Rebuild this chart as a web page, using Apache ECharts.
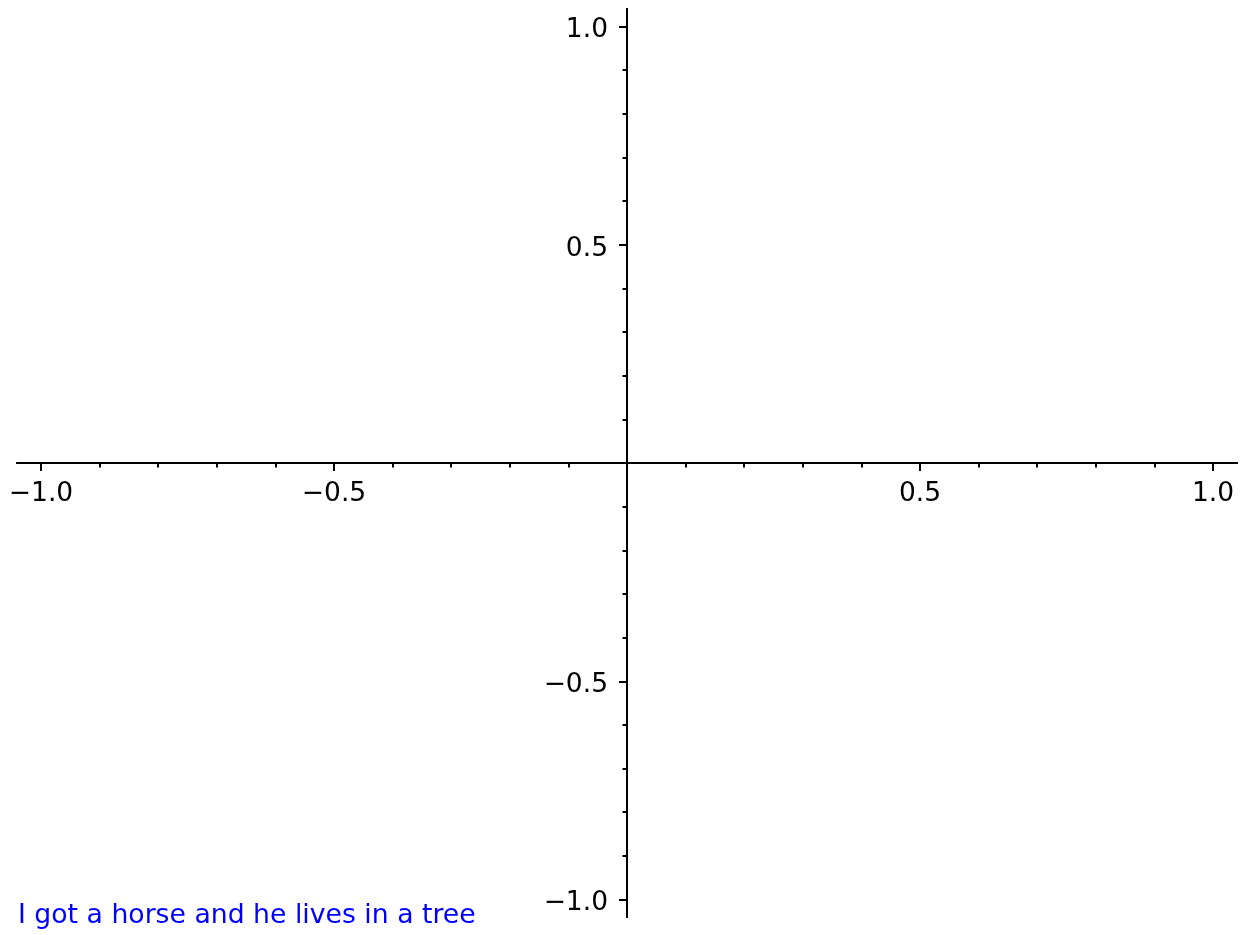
<!DOCTYPE html>
<html>
<head>
<meta charset="utf-8">
<script src="https://cdn.jsdelivr.net/npm/echarts@6/dist/echarts.min.js"></script>
<style>
html,body{margin:0;padding:0;background:#fff;}
#chart{width:1246px;height:935px;}
</style>
</head>
<body>
<div id="chart"></div>
<script>
const xMajorTicks = [-1.0, -0.5, 0.5, 1.0];
const yMajorTicks = [-1.0, -0.5, 0.5, 1.0];
const xMinorTicks = [-0.9, -0.8, -0.7, -0.6, -0.4, -0.3, -0.2, -0.1, 0.1, 0.2, 0.3, 0.4, 0.6, 0.7, 0.8, 0.9];
const yMinorTicks = [-0.9, -0.8, -0.7, -0.6, -0.4, -0.3, -0.2, -0.1, 0.1, 0.2, 0.3, 0.4, 0.6, 0.7, 0.8, 0.9];
const xRange = [-1.041, 1.041];
const yRange = [-1.04, 1.04];
const caption = 'I got a horse and he lives in a tree';

const FONT = 'DejaVu Sans';
const FS = 26.5;
const fmt = v => (v < 0 ? '\u2212' : '') + Math.abs(v).toFixed(1);
const gridPos = { left: 17, width: 1220, top: 9, height: 908, containLabel: false, outerBoundsMode: 'none' };
const lineStyle = { color: '#000', width: 2 };

function axisPair(gridIndex, range, ticks, len) {
  return {
    gridIndex: gridIndex, type: 'value', min: range[0], max: range[1],
    splitLine: { show: false },
    axisLine: { show: true, onZero: true, lineStyle: lineStyle },
    axisTick: { show: true, customValues: ticks, length: len, lineStyle: lineStyle },
    axisLabel: { show: false }
  };
}

const labelBase = { show: true, color: '#000000', opacity: 1, fontFamily: FONT, fontSize: FS, fontWeight: 'normal' };

const chart = echarts.init(document.getElementById('chart'), null, { renderer: 'canvas' });
chart.setOption({
  animation: false,
  backgroundColor: '#fff',
  title: {
    text: caption,
    left: 18,
    top: 903,
    padding: 0,
    textStyle: { color: '#0000ff', fontFamily: FONT, fontSize: 26.7, fontWeight: 'normal' }
  },
  grid: [
    Object.assign({}, gridPos),
    Object.assign({}, gridPos)
  ],
  xAxis: [
    axisPair(0, xRange, xMajorTicks, 8),
    axisPair(1, xRange, xMinorTicks, 4.5)
  ],
  yAxis: [
    axisPair(0, yRange, yMajorTicks, 8),
    axisPair(1, yRange, yMinorTicks, 4.5)
  ],
  series: [
    {
      type: 'scatter', xAxisIndex: 0, yAxisIndex: 0, silent: true,
      symbolSize: 0,
      itemStyle: { opacity: 1, color: '#000' },
      data: xMajorTicks.map(v => [v, 0]),
      label: Object.assign({}, labelBase, {
        position: 'bottom', distance: 18,
        formatter: p => fmt(p.value[0])
      })
    },
    {
      type: 'scatter', xAxisIndex: 0, yAxisIndex: 0, silent: true,
      symbolSize: 0,
      itemStyle: { opacity: 1, color: '#000' },
      data: yMajorTicks.map(v => [0, v]),
      label: Object.assign({}, labelBase, {
        position: 'left', distance: 19, offset: [0, 4],
        formatter: p => fmt(p.value[1])
      })
    }
  ]
});
</script>
</body>
</html>
